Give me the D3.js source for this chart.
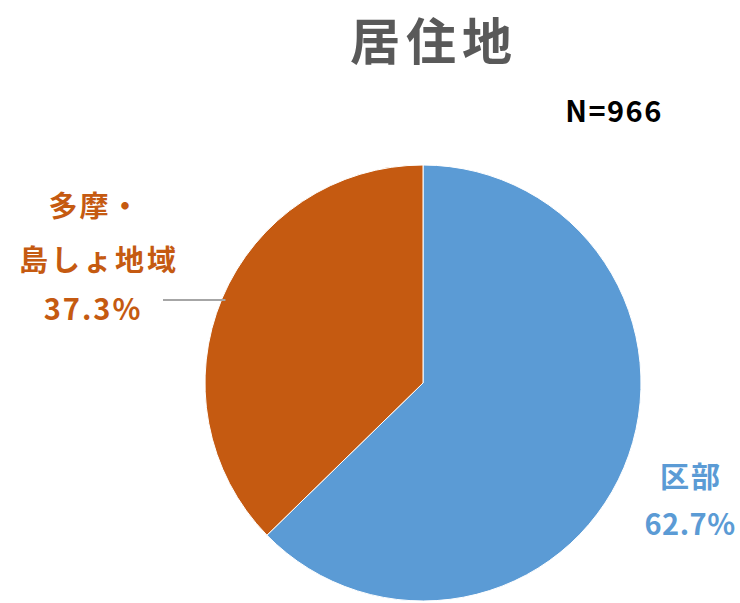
<!DOCTYPE html>
<html>
<head>
<meta charset="utf-8">
<script src="https://cdn.jsdelivr.net/npm/d3@7"></script>
<style>
  body { margin: 0; background: #fff; }
  svg { display: block; font-family: 'Noto Sans CJK JP', 'Noto Sans', sans-serif; }
</style>
</head>
<body>
<div id="root"></div>
<script>
const categories = ['区部', '多摩・島しょ地域'];
const values = [62.7, 37.3];
const labelLines = [['区部', '62.7%'], ['多摩・', '島しょ地域', '37.3%']];
const colors = ['#5B9BD5', '#C55A11'];
const title = '居住地';
const note = 'N=966';

const width = 740;
const height = 603;
const cx = 423;
const cy = 383;
const radius = 218;

const svg = d3.select('#root')
  .append('svg')
  .attr('width', width)
  .attr('height', height);

svg.append('text')
  .attr('x', 434)
  .attr('y', 60)
  .attr('text-anchor', 'middle')
  .attr('fill', '#595959')
  .attr('font-size', 50)
  .attr('font-weight', 'bold')
  .attr('letter-spacing', 6)
  .text(title);

svg.append('text')
  .attr('x', 614)
  .attr('y', 122)
  .attr('text-anchor', 'middle')
  .attr('fill', '#000')
  .attr('font-size', 29)
  .attr('font-weight', 'bold')
  .attr('letter-spacing', 1.5)
  .text(note);

const pie = d3.pie().sort(null).value((d) => d);
const arc = d3.arc().innerRadius(0).outerRadius(radius);
const arcs = pie(values);

const g = svg.append('g')
  .attr('transform', `translate(${cx}, ${cy})`);

g.selectAll('path')
  .data(arcs)
  .enter()
  .append('path')
  .attr('d', arc)
  .attr('fill', (d, i) => colors[i])
  .attr('stroke', '#fff')
  .attr('stroke-width', 1);

// leader line for the left slice, ends just inside the pie edge
const lineY = 300;
const edgeX = cx - Math.sqrt(radius * radius - (lineY - cy) * (lineY - cy)) + 4;
svg.append('line')
  .attr('x1', 163)
  .attr('y1', lineY)
  .attr('x2', edgeX)
  .attr('y2', lineY)
  .attr('stroke', '#a6a6a6')
  .attr('stroke-width', 2);

// left label
const left = svg.append('text')
  .attr('text-anchor', 'middle')
  .attr('fill', colors[1])
  .attr('font-size', 29)
  .attr('font-weight', 'bold');
[[95, 217], [99, 271], [93, 320]].forEach((p, i) => {
  left.append('tspan')
    .attr('x', p[0])
    .attr('y', p[1])
    .attr('letter-spacing', i === 1 ? 3 : 2)
    .text(labelLines[1][i]);
});

// right label
const right = svg.append('text')
  .attr('text-anchor', 'middle')
  .attr('fill', colors[0])
  .attr('font-size', 29)
  .attr('font-weight', 'bold');
[[691, 488], [690, 535]].forEach((p, i) => {
  right.append('tspan')
    .attr('x', p[0])
    .attr('y', p[1])
    .attr('letter-spacing', i === 0 ? 2 : 0.5)
    .text(labelLines[0][i]);
});
</script>
</body>
</html>
